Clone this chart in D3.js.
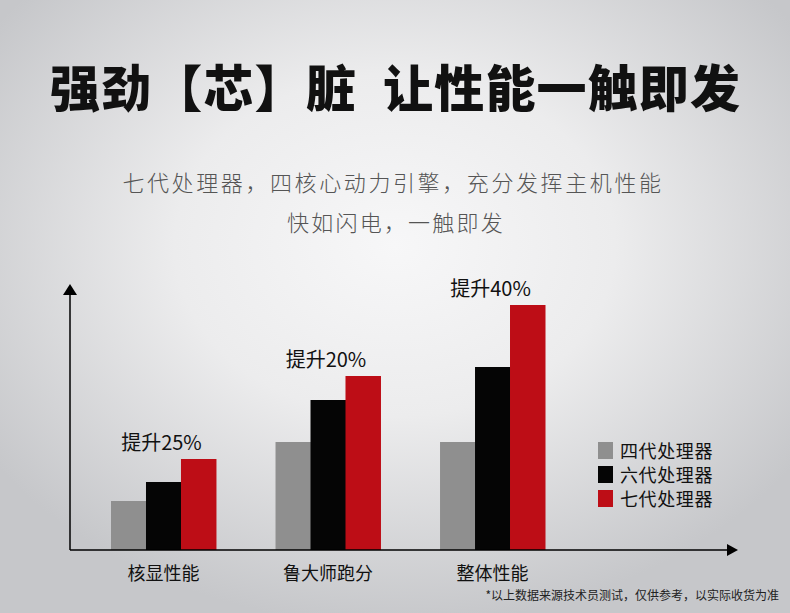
<!DOCTYPE html>
<html>
<head>
<meta charset="utf-8">
<script src="https://cdn.jsdelivr.net/npm/d3@7"></script>
<style>
  html, body { margin: 0; padding: 0; }
  svg { display: block; font-family: "Noto Sans CJK SC", "Noto Sans", sans-serif; }
</style>
</head>
<body>
<div id="chart"></div>
<script>
// chart data
var categories = ["核显性能", "鲁大师跑分", "整体性能"];
var seriesNames = ["四代处理器", "六代处理器", "七代处理器"];
var gen4 = [49, 108, 108];
var gen6 = [68, 150, 183];
var gen7 = [91, 174, 245];
var boostLabels = ["提升25%", "提升20%", "提升40%"];
var colors = ["#8f8f8f", "#050505", "#bd0d16"];

var W = 790, H = 613;
var svg = d3.select("#chart")
  .append("svg")
  .attr("width", W)
  .attr("height", H);

// background
var defs = svg.append("defs");
var grad = defs.append("radialGradient")
  .attr("id", "bg")
  .attr("cx", "50%").attr("cy", "40%").attr("r", "62%");
grad.append("stop").attr("offset", "0%").attr("stop-color", "#f7f7f8");
grad.append("stop").attr("offset", "45%").attr("stop-color", "#ececed");
grad.append("stop").attr("offset", "100%").attr("stop-color", "#c6c7ca");
svg.append("rect").attr("width", W).attr("height", H).attr("fill", "url(#bg)");

// titles
svg.append("text")
  .attr("x", 395).attr("y", 107)
  .attr("text-anchor", "middle")
  .attr("font-size", 50)
  .attr("font-weight", 900)
  .attr("fill", "#111")
  .attr("textLength", 690)
  .attr("lengthAdjust", "spacing")
  .text("强劲【芯】脏\u2002让性能一触即发");

svg.append("text")
  .attr("x", 393).attr("y", 191)
  .attr("text-anchor", "middle")
  .attr("font-size", 22)
  .attr("font-weight", 300)
  .attr("fill", "#555")
  .attr("letter-spacing", 2.6)
  .text("七代处理器，四核心动力引擎，充分发挥主机性能");

svg.append("text")
  .attr("x", 396).attr("y", 231)
  .attr("text-anchor", "middle")
  .attr("font-size", 22)
  .attr("font-weight", 300)
  .attr("fill", "#555")
  .attr("letter-spacing", 2.2)
  .text("快如闪电，一触即发");

// scales
var baseY = 550;
var x = d3.scaleBand()
  .domain(categories)
  .range([111, 545])
  .paddingInner(0.362)
  .paddingOuter(0);

var xs = d3.scaleBand()
  .domain(seriesNames)
  .range([0, x.bandwidth()]);

var y = d3.scaleLinear()
  .domain([0, 260])
  .range([baseY, baseY - 260]);

var rows = categories.map(function(c, i) {
  return { cat: c, vals: [gen4[i], gen6[i], gen7[i]], label: boostLabels[i] };
});

var groups = svg.selectAll("g.grp")
  .data(rows)
  .enter()
  .append("g")
  .attr("class", "grp")
  .attr("transform", function(d) { return "translate(" + x(d.cat) + ",0)"; });

groups.selectAll("rect")
  .data(function(d) { return d.vals.map(function(v, j) { return { name: seriesNames[j], v: v, c: colors[j] }; }); })
  .enter()
  .append("rect")
  .attr("x", function(d) { return xs(d.name); })
  .attr("width", xs.bandwidth() + 0.5)
  .attr("y", function(d) { return y(d.v); })
  .attr("height", function(d) { return baseY - y(d.v); })
  .attr("fill", function(d) { return d.c; });

groups.append("text")
  .attr("x", x.bandwidth() / 2 - 2)
  .attr("y", function(d) { return y(d.vals[2]) - 9; })
  .attr("text-anchor", "middle")
  .attr("font-size", 20)
  .attr("fill", "#111")
  .text(function(d) { return d.label; });

// axes
var xAxis = d3.axisBottom(x).tickSize(0).tickPadding(17);
var gx = svg.append("g")
  .attr("transform", "translate(0," + baseY + ")")
  .call(xAxis);
gx.select(".domain").remove();
gx.selectAll("text")
  .attr("font-size", 18)
  .attr("fill", "#111")
  .attr("font-family", "Noto Sans CJK SC, sans-serif");

svg.append("line")
  .attr("x1", 70).attr("y1", baseY)
  .attr("x2", 728).attr("y2", baseY)
  .attr("stroke", "#000").attr("stroke-width", 1.5);
svg.append("line")
  .attr("x1", 70).attr("y1", baseY)
  .attr("x2", 70).attr("y2", 294)
  .attr("stroke", "#000").attr("stroke-width", 1.5);
svg.append("path")
  .attr("d", "M63,295 L77,295 L70,284 Z")
  .attr("fill", "#000");
svg.append("path")
  .attr("d", "M727,544 L727,556 L738,550 Z")
  .attr("fill", "#000");

// legend
var legend = svg.selectAll("g.leg")
  .data(seriesNames)
  .enter()
  .append("g")
  .attr("class", "leg")
  .attr("transform", function(d, i) { return "translate(598," + (442 + i * 24) + ")"; });
legend.append("rect")
  .attr("width", 15).attr("height", 17)
  .attr("fill", function(d, i) { return colors[i]; });
legend.append("text")
  .attr("x", 22).attr("y", 15.5)
  .attr("font-size", 18)
  .attr("fill", "#111")
  .attr("letter-spacing", 0.6)
  .text(function(d) { return d; });

// footnote
svg.append("text")
  .attr("x", 779).attr("y", 600)
  .attr("text-anchor", "end")
  .attr("font-size", 12)
  .attr("fill", "#222")
  .text("*以上数据来源技术员测试，仅供参考，以实际收货为准");
</script>
</body>
</html>
